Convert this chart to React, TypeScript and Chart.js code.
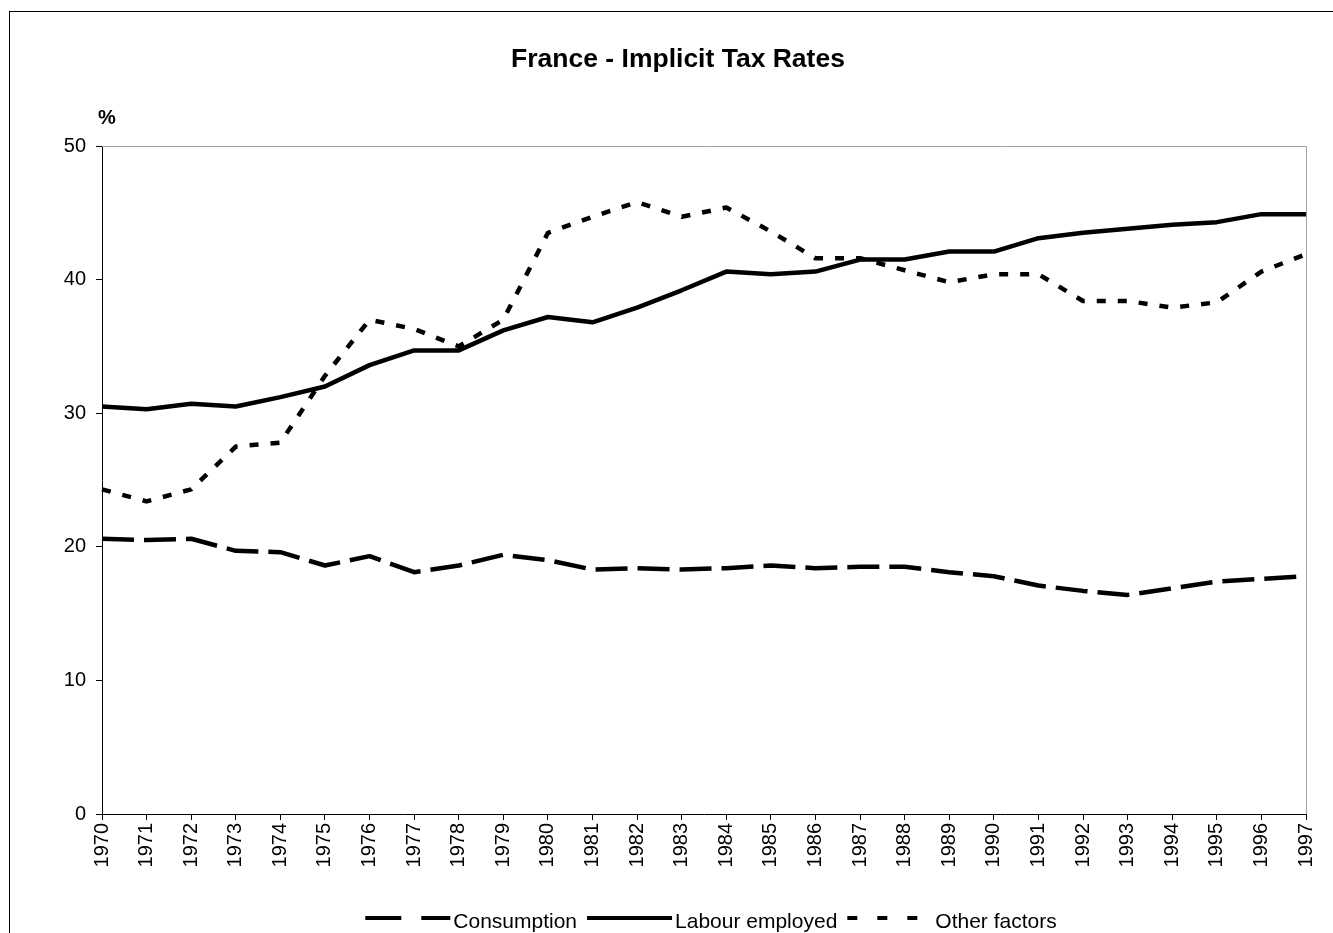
import React, { useEffect, useRef } from "react";
import { Chart, registerables } from "chart.js";

Chart.register(...registerables);

const years = [
  "1970", "1971", "1972", "1973", "1974", "1975", "1976", "1977", "1978", "1979",
  "1980", "1981", "1982", "1983", "1984", "1985", "1986", "1987", "1988", "1989",
  "1990", "1991", "1992", "1993", "1994", "1995", "1996", "1997",
];

const consumption = [
  20.6, 20.5, 20.6, 19.7, 19.6, 18.6, 19.3, 18.1, 18.6, 19.4,
  19.0, 18.3, 18.4, 18.3, 18.4, 18.6, 18.4, 18.5, 18.5, 18.1,
  17.8, 17.1, 16.7, 16.4, 16.9, 17.4, 17.6, 17.8,
];

const labourEmployed = [
  30.5, 30.3, 30.7, 30.5, 31.2, 32.0, 33.6, 34.7, 34.7, 36.2,
  37.2, 36.8, 37.9, 39.2, 40.6, 40.4, 40.6, 41.5, 41.5, 42.1,
  42.1, 43.1, 43.5, 43.8, 44.1, 44.3, 44.9, 44.9,
];

const otherFactors = [
  24.3, 23.4, 24.3, 27.5, 27.8, 32.8, 37.0, 36.3, 35.0, 37.0,
  43.5, 44.7, 45.8, 44.7, 45.4, 43.6, 41.6, 41.6, 40.7, 39.8,
  40.4, 40.4, 38.4, 38.4, 37.9, 38.3, 40.6, 41.9,
];

const seriesNames = ["Consumption", "Labour employed", "Other factors"];
const yTicks = [0, 10, 20, 30, 40, 50];

const FONT = "'Liberation Sans', Arial, sans-serif";

const plotDashes = [[32, 10], [], [9, 12]];
const legendDashes = [[36, 20], [], [10, 20]];

const framePlugin = {
  id: "frameLines",
  beforeDatasetsDraw(chart: any) {
    const { ctx, chartArea } = chart;
    const { left, right, top, bottom } = chartArea;
    ctx.save();
    ctx.strokeStyle = "#a0a0a0";
    ctx.lineWidth = 1;
    ctx.beginPath();
    ctx.moveTo(left, Math.round(top) + 0.5);
    ctx.lineTo(Math.round(right) + 0.5, Math.round(top) + 0.5);
    ctx.lineTo(Math.round(right) + 0.5, bottom);
    ctx.stroke();
    ctx.restore();
  },
};

const extrasPlugin = {
  id: "extras",
  afterDraw(chart: any) {
    const { ctx, chartArea } = chart;
    ctx.save();
    // unit label
    ctx.fillStyle = "#000";
    ctx.font = `bold 20px ${FONT}`;
    ctx.textBaseline = "middle";
    ctx.textAlign = "left";
    ctx.fillText("%", chartArea.left - 4, chartArea.top - 28);

    // legend
    ctx.font = `21px ${FONT}`;
    const sampleW = 85;
    const textGap = 3;
    const itemGap = 10;
    const widths = seriesNames.map((n) => ctx.measureText(n).width);
    const total =
      widths.reduce((a, b) => a + b, 0) +
      seriesNames.length * (sampleW + textGap) +
      itemGap * (seriesNames.length - 1);
    let x = (chartArea.left + chartArea.right) / 2 + 7 - total / 2;
    const lineY = chart.height - 15;
    const textY = chart.height - 11;
    seriesNames.forEach((name, i) => {
      ctx.save();
      ctx.strokeStyle = "#000";
      ctx.lineWidth = 4;
      ctx.lineCap = "butt";
      ctx.setLineDash(legendDashes[i]);
      ctx.beginPath();
      ctx.moveTo(x, lineY);
      ctx.lineTo(x + sampleW, lineY);
      ctx.stroke();
      ctx.restore();
      x += sampleW + textGap;
      ctx.fillStyle = "#000";
      ctx.fillText(name, x, textY);
      x += widths[i] + itemGap;
    });
    ctx.restore();
  },
};

export default function App() {
  const canvasRef = useRef<HTMLCanvasElement | null>(null);

  useEffect(() => {
    const canvas = canvasRef.current;
    if (!canvas) return;
    const seriesData = [consumption, labourEmployed, otherFactors];
    const chart = new Chart(canvas, {
      type: "line",
      data: {
        labels: years,
        datasets: seriesNames.map((name, i) => ({
          label: name,
          data: seriesData[i],
          borderColor: "#000",
          backgroundColor: "#000",
          borderWidth: 4.5,
          borderDash: plotDashes[i],
          borderCapStyle: "butt",
          borderJoinStyle: "round",
          pointRadius: 0,
          pointHoverRadius: 0,
          tension: 0,
          fill: false,
        })),
      },
      options: {
        responsive: false,
        animation: false,
        events: [],
        layout: { padding: { left: 40, right: 27, top: 0, bottom: 49 } },
        plugins: {
          legend: { display: false },
          tooltip: { enabled: false },
          title: {
            display: true,
            text: "France - Implicit Tax Rates",
            color: "#000",
            font: { family: FONT, size: 26.5, weight: "bold" },
            padding: { top: 32, bottom: 70.2 },
          },
        },
        scales: {
          x: {
            type: "category",
            offset: false,
            afterFit: (scale: any) => {
              scale.height = 70;
            },
            grid: {
              display: true,
              drawOnChartArea: false,
              drawTicks: true,
              tickLength: 6,
              color: "#000",
            },
            border: { display: true, color: "#000", width: 1 },
            ticks: {
              autoSkip: false,
              minRotation: 90,
              maxRotation: 90,
              padding: 3,
              color: "#000",
              font: { family: FONT, size: 20 },
            },
          },
          y: {
            min: 0,
            max: 50,
            afterFit: (scale: any) => {
              scale.width = 52;
            },
            afterBuildTicks: (scale: any) => {
              scale.ticks = yTicks.map((v) => ({ value: v }));
            },
            grid: {
              display: true,
              drawOnChartArea: false,
              drawTicks: true,
              tickLength: 6,
              color: "#000",
            },
            border: { display: true, color: "#000", width: 1 },
            ticks: {
              padding: 10,
              color: "#000",
              font: { family: FONT, size: 20 },
            },
          },
        },
      },
      plugins: [framePlugin, extrasPlugin],
    } as any);
    return () => chart.destroy();
  }, []);

  return (
    <div
      style={{
        position: "absolute",
        left: 9,
        top: 11,
        width: 1324,
        height: 922,
        borderLeft: "1px solid #000",
        borderTop: "1px solid #000",
        background: "#fff",
      }}
    >
      <canvas ref={canvasRef} width={1323} height={921} style={{ display: "block" }} />
    </div>
  );
}
